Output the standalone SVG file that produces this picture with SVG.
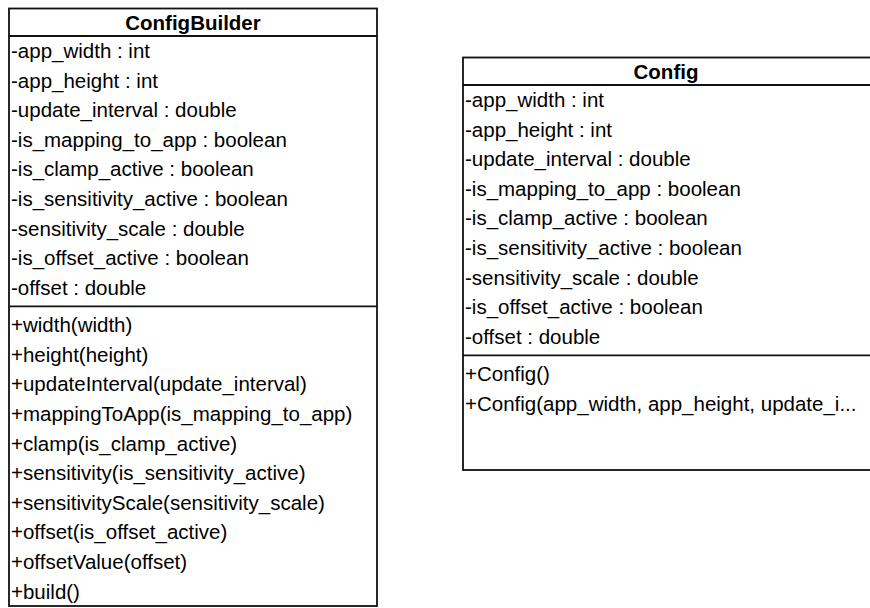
<svg xmlns="http://www.w3.org/2000/svg" width="870" height="608" viewBox="0 0 870 608">
<style>
.box{fill:#fff;stroke:#111;stroke-width:1.8}
.ln{stroke:#111;stroke-width:1.8;fill:none}
.t{font-family:"Liberation Sans",Arial,sans-serif;font-size:20.5px;fill:#000}
.h{font-family:"Liberation Sans",Arial,sans-serif;font-size:20.5px;font-weight:bold;fill:#000;text-anchor:middle}
</style>
<rect width="870" height="608" fill="#fff"/>
<g id="ConfigBuilder">
<rect class="box" x="9" y="8.5" width="368" height="597.5"/>
<line class="ln" x1="9" y1="36" x2="377" y2="36"/>
<line class="ln" x1="9" y1="306.4" x2="377" y2="306.4"/>
<text class="h" x="193" y="30">ConfigBuilder</text>
<text class="t" x="11" y="58">-app_width : int</text>
<text class="t" x="11" y="87.6">-app_height : int</text>
<text class="t" x="11" y="117.2">-update_interval : double</text>
<text class="t" x="11" y="146.8">-is_mapping_to_app : boolean</text>
<text class="t" x="11" y="176.4">-is_clamp_active : boolean</text>
<text class="t" x="11" y="206">-is_sensitivity_active : boolean</text>
<text class="t" x="11" y="235.6">-sensitivity_scale : double</text>
<text class="t" x="11" y="265.2">-is_offset_active : boolean</text>
<text class="t" x="11" y="294.8">-offset : double</text>
<text class="t" x="11" y="332.2">+width(width)</text>
<text class="t" x="11" y="361.8">+height(height)</text>
<text class="t" x="11" y="391.4">+updateInterval(update_interval)</text>
<text class="t" x="11" y="421">+mappingToApp(is_mapping_to_app)</text>
<text class="t" x="11" y="450.6">+clamp(is_clamp_active)</text>
<text class="t" x="11" y="480.2">+sensitivity(is_sensitivity_active)</text>
<text class="t" x="11" y="509.8">+sensitivityScale(sensitivity_scale)</text>
<text class="t" x="11" y="539.4">+offset(is_offset_active)</text>
<text class="t" x="11" y="569">+offsetValue(offset)</text>
<text class="t" x="11" y="598.6">+build()</text>
</g>
<g id="Config">
<rect class="box" x="463" y="57.5" width="440" height="412.5"/>
<line class="ln" x1="463" y1="85" x2="903" y2="85"/>
<line class="ln" x1="463" y1="355.4" x2="903" y2="355.4"/>
<text class="h" x="666" y="78.5">Config</text>
<text class="t" x="465" y="107">-app_width : int</text>
<text class="t" x="465" y="136.6">-app_height : int</text>
<text class="t" x="465" y="166.2">-update_interval : double</text>
<text class="t" x="465" y="195.8">-is_mapping_to_app : boolean</text>
<text class="t" x="465" y="225.4">-is_clamp_active : boolean</text>
<text class="t" x="465" y="255">-is_sensitivity_active : boolean</text>
<text class="t" x="465" y="284.6">-sensitivity_scale : double</text>
<text class="t" x="465" y="314.2">-is_offset_active : boolean</text>
<text class="t" x="465" y="343.8">-offset : double</text>
<text class="t" x="465" y="381.2">+Config()</text>
<text class="t" x="465" y="410.8">+Config(app_width, app_height, update_i...</text>
</g>
<g id="connectors"/>
</svg>
